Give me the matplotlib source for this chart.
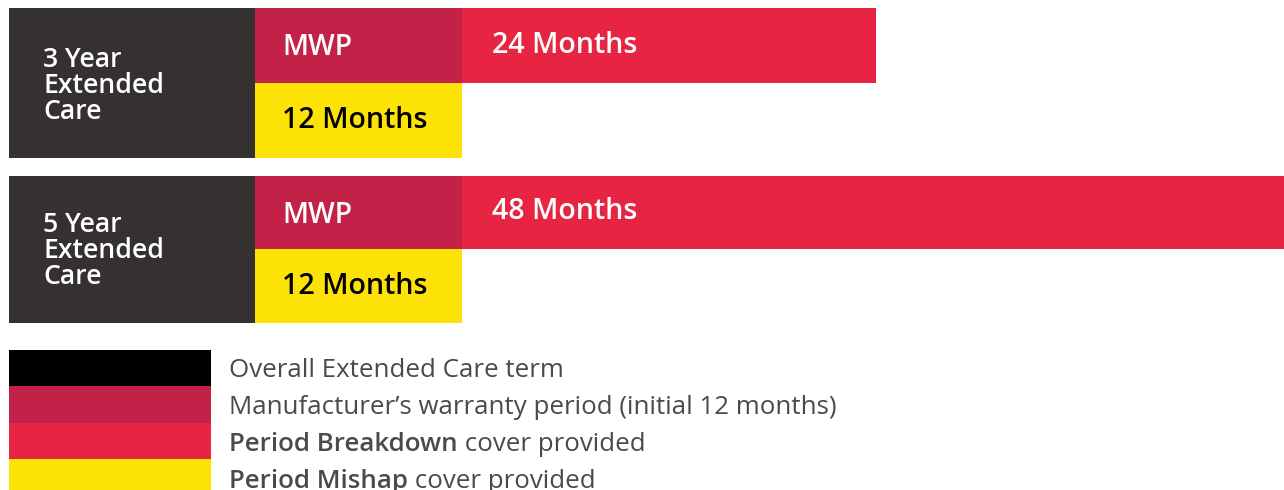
import matplotlib
matplotlib.use("Agg")
import matplotlib.pyplot as plt
from matplotlib.patches import Rectangle

plt.rcParams['font.family'] = ['Open Sans', 'DejaVu Sans']

# ---- data ----
plans = ["3 Year\nExtended\nCare", "5 Year\nExtended\nCare"]
mwp_months = [12, 12]
breakdown_months = [24, 48]
mishap_months = [12, 12]
mwp_label = "MWP"
legend_labels = [
    ("", "Overall Extended Care term"),
    ("", "Manufacturer\u2019s warranty period (initial 12 months)"),
    ("Period Breakdown", " cover provided"),
    ("Period Mishap", " cover provided"),
]

# ---- style ----
C_DARK = "#353131"
C_MWP = "#C22248"
C_RED = "#E72542"
C_YEL = "#FCE206"
C_BLACK = "#000000"
C_LEG_TXT = "#4a4a4a"

W, H, DPI = 1284, 490, 100
fig = plt.figure(figsize=(W / DPI, H / DPI), dpi=DPI)

PX_PER_MONTH = 207 / 12.0
x0_px = 9
label_px = 246
ax = fig.add_axes([0, 0, 1, 1])
# x in months, origin at the start of MWP
ax.set_xlim(-(x0_px + label_px) / PX_PER_MONTH, (W - x0_px - label_px) / PX_PER_MONTH)
ax.set_ylim(H, 0)
ax.axis("off")

row_tops = [8, 176]
row_mid = [83, 249]
row_bot = [158, 323]
label_w = label_px / PX_PER_MONTH

for i, plan in enumerate(plans):
    t, m, b = row_tops[i], row_mid[i], row_bot[i]
    # dark label block
    ax.add_patch(Rectangle((-label_w, t), label_w, b - t, color=C_DARK, lw=0))
    # MWP
    ax.barh(t, mwp_months[i], height=m - t, left=0, align="edge", color=C_MWP, lw=0)
    # breakdown
    ax.barh(t, breakdown_months[i], height=m - t, left=mwp_months[i], align="edge",
            color=C_RED, lw=0)
    # mishap
    ax.barh(m, mishap_months[i], height=b - m, left=0, align="edge", color=C_YEL, lw=0)

    # label text
    lines = plan.split("\n")
    base0 = t + 59 if i == 0 else t + 56
    for k, ln in enumerate(lines):
        ax.text(-label_w + 34 / PX_PER_MONTH, base0 + 26 * k, ln, color="white",
                fontsize=19.2, fontweight="semibold", va="baseline", ha="left")
    ax.text(27 / PX_PER_MONTH, t + 47, mwp_label, color="white", fontsize=20.3,
            fontweight="semibold", va="baseline", ha="left")
    ax.text(mwp_months[i] + 30 / PX_PER_MONTH, t + 45 if i == 0 else t + 43,
            f"{breakdown_months[i]} Months", color="white", fontsize=20.6,
            fontweight="semibold", va="baseline", ha="left")
    ax.text(27 / PX_PER_MONTH, m + 45, f"{mishap_months[i]} Months", color="black",
            fontsize=20.6, fontweight="semibold", va="baseline", ha="left")

# ---- legend ----
leg_colors = [C_BLACK, C_MWP, C_RED, C_YEL]
sw_tops = [350, 386, 423, 459]
sw_h = [36, 37, 36, 37]
for k, c in enumerate(leg_colors):
    ax.add_patch(Rectangle((-label_w, sw_tops[k]), 202 / PX_PER_MONTH, sw_h[k],
                           color=c, lw=0, clip_on=False))

fig.canvas.draw()
renderer = fig.canvas.get_renderer()
baselines = [377, 414, 451, 488]
for k, (bold, reg) in enumerate(legend_labels):
    xpix = 229
    ypix = H - baselines[k]
    if bold:
        tb = fig.text(xpix / W, ypix / H, bold, color=C_LEG_TXT, fontsize=18.6,
                      fontweight="semibold", va="baseline", ha="left")
        ext = tb.get_window_extent(renderer)
        xpix = ext.x1
    fig.text(xpix / W, ypix / H, reg, color=C_LEG_TXT, fontsize=18.6,
             va="baseline", ha="left")

fig.savefig("out.png", dpi=DPI, facecolor="white")
